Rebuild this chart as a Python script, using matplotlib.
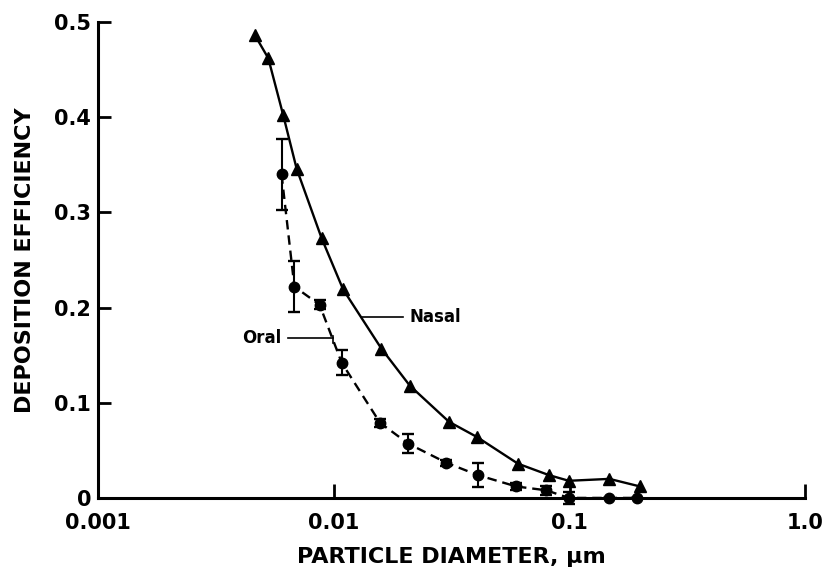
import numpy as np
import matplotlib.pyplot as plt

plt.rcParams['font.family'] = ['DejaVu Sans']
plt.rcParams['font.weight'] = 'bold'

# nasal breathing deposition
nasal_d = [0.00463, 0.00527, 0.0061, 0.00695, 0.00887, 0.01095, 0.0159, 0.021,
           0.0308, 0.0405, 0.0604, 0.0817, 0.0993, 0.1477, 0.1994]
nasal_eff = [0.486, 0.462, 0.402, 0.346, 0.273, 0.219, 0.157, 0.118,
             0.080, 0.064, 0.036, 0.024, 0.018, 0.020, 0.012]

# oral breathing deposition with error bars
oral_d = [0.0060, 0.0068, 0.0087, 0.0108, 0.0157, 0.0207, 0.0300, 0.0408,
          0.0595, 0.0797, 0.0993, 0.147, 0.194]
oral_eff = [0.340, 0.222, 0.203, 0.142, 0.079, 0.057, 0.037, 0.024,
            0.012, 0.008, 0.0, 0.0, 0.0]
oral_err = [0.037, 0.027, 0.005, 0.013, 0.004, 0.010, 0.003, 0.013,
            0.004, 0.005, 0.006, 0.0, 0.0]

xticks = [0.001, 0.01, 0.1, 1.0]
xticklabels = ['0.001', '0.01', '0.1', '1.0']
yticks = [0, 0.1, 0.2, 0.3, 0.4, 0.5]
yticklabels = ['0', '0.1', '0.2', '0.3', '0.4', '0.5']

fig = plt.figure(figsize=(8.25, 5.81), dpi=100)
ax = fig.add_axes([0.119, 0.143, 0.857, 0.819])

ax.plot(nasal_d, nasal_eff, '-', color='black', lw=1.7, marker='^', ms=9,
        clip_on=False, zorder=3)
ax.errorbar(oral_d, oral_eff, yerr=oral_err, fmt='o', ls=(0, (4, 2.5)),
            color='black', lw=1.7, ms=7.5, capsize=4, elinewidth=1.5,
            capthick=1.7, clip_on=False, zorder=3)

# leader lines for series labels
ax.plot([0.01314, 0.0196], [0.19, 0.19], color='black', lw=1.2)
ax.text(0.0209, 0.19, 'Nasal', fontsize=12, fontweight='bold', va='center', ha='left')
ax.plot([0.0064, 0.00994], [0.168, 0.168], color='black', lw=1.2)
ax.plot([0.00994, 0.00994], [0.163, 0.170], color='black', lw=1.2)
ax.text(0.0060, 0.168, 'Oral', fontsize=12, fontweight='bold', va='center', ha='right')

ax.set_xscale('log')
ax.set_xlim(0.001, 1.0)
ax.set_ylim(0, 0.5)
ax.set_xticks(xticks)
ax.set_xticklabels(xticklabels)
ax.minorticks_off()
ax.set_yticks(yticks)
ax.set_yticklabels(yticklabels)

for s in ['top', 'right']:
    ax.spines[s].set_visible(False)
for s in ['left', 'bottom']:
    ax.spines[s].set_linewidth(2.2)

ax.tick_params(axis='both', direction='in', width=2, labelsize=15)
ax.tick_params(axis='x', length=10, pad=11)
ax.tick_params(axis='y', length=9, pad=5)
for lab in ax.get_xticklabels() + ax.get_yticklabels():
    lab.set_fontweight('bold')

ax.set_xlabel('PARTICLE DIAMETER, µm', fontsize=16, fontweight='bold', labelpad=10)
ax.set_ylabel('DEPOSITION EFFICIENCY', fontsize=16, fontweight='bold', labelpad=14)

fig.savefig('out.png', dpi=100)
